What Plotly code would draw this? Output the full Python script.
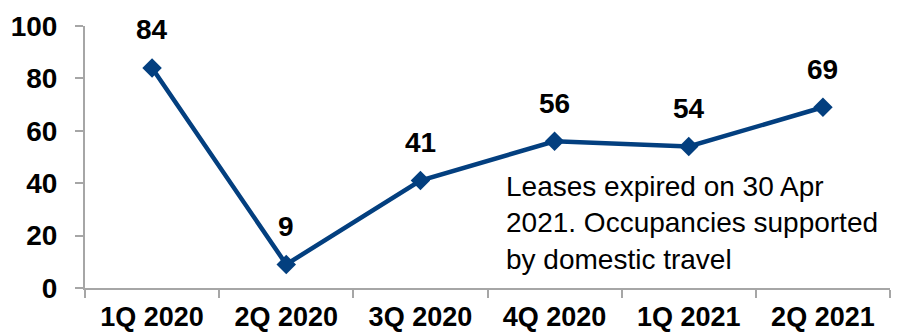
import plotly.graph_objects as go

categories = ["1Q 2020", "2Q 2020", "3Q 2020", "4Q 2020", "1Q 2021", "2Q 2021"]
values = [84, 9, 41, 56, 54, 69]
y_ticks = [0, 20, 40, 60, 80, 100]
note = "Leases expired on 30 Apr<br>2021. Occupancies supported<br>by domestic travel"

BLUE = "#033f7f"
FONT = "Liberation Sans, Arial, sans-serif"

fig = go.Figure()
fig.add_trace(go.Scatter(
    x=categories, y=values, mode="lines+markers",
    line=dict(color=BLUE, width=4.5),
    marker=dict(symbol="diamond", size=15, color=BLUE),
    cliponaxis=False, showlegend=False,
))

for c, v in zip(categories, values):
    fig.add_annotation(x=c, y=v, text=f"<b>{v}</b>", showarrow=False,
                       yshift=38, font=dict(family=FONT, size=28, color="#000"))

fig.add_annotation(x=0.52, y=0.455, xref="paper", yref="paper", xanchor="left", yanchor="top",
                   text=note, showarrow=False, align="left",
                   font=dict(family=FONT, size=28, color="#000"))

fig.update_layout(
    width=899, height=334,
    margin=dict(l=85, r=9, t=26, b=46, autoexpand=False),
    paper_bgcolor="white", plot_bgcolor="white",
    font=dict(family=FONT, size=28, color="#000"),
)
fig.update_xaxes(
    type="category", range=[-0.5, len(categories) - 0.5],
    showline=True, linecolor="#a6a6a6", linewidth=2,
    ticks="outside", tickson="boundaries", ticklen=8, tickcolor="#a6a6a6", tickwidth=2,
    showgrid=False, zeroline=False, ticklabelstandoff=4, automargin=False,
    tickfont=dict(family=FONT, size=27, color="#000", weight="bold"),
)
fig.update_yaxes(
    range=[0, 100], tickvals=y_ticks, showline=True, linecolor="#a6a6a6", linewidth=2,
    ticks="outside", ticklen=8, tickcolor="#a6a6a6", tickwidth=2,
    showgrid=False, zeroline=False, ticklabelstandoff=12, automargin=False,
    tickfont=dict(family=FONT, size=28, color="#000", weight="bold"),
)

fig.write_html("out.html")
